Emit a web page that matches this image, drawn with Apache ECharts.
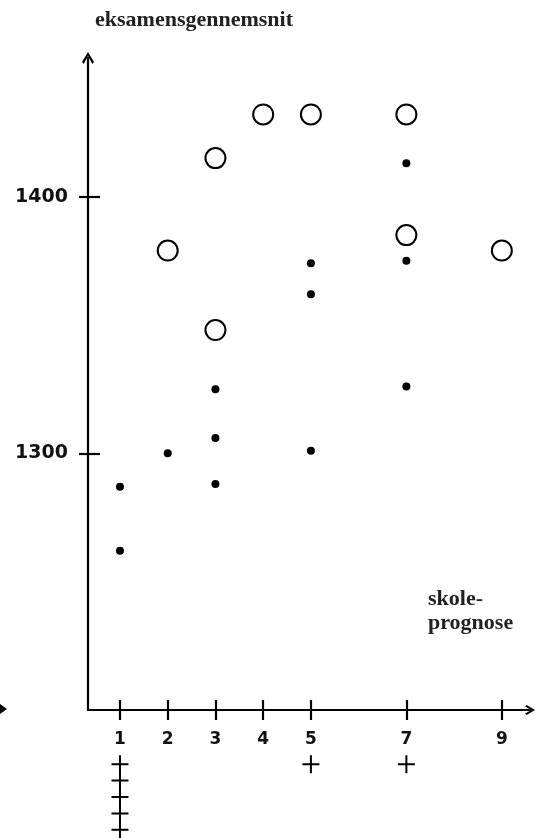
<!DOCTYPE html>
<html>
<head>
<meta charset="utf-8">
<script src="https://cdn.jsdelivr.net/npm/echarts@6/dist/echarts.min.js"></script>
<style>html,body{margin:0;padding:0;background:#fff;}#c{width:535px;height:838px;}</style>
</head>
<body>
<div id="c"></div>
<script>
// Data
const xTicks = [1, 2, 3, 4, 5, 7, 9];
const yTicks = [1300, 1400];
const dotX = [1, 1, 2, 3, 3, 3, 5, 5, 5, 7, 7, 7];
const dotY = [1287, 1262, 1300, 1325, 1306, 1288, 1374, 1362, 1301, 1413, 1375, 1326];
const circX = [2, 3, 3, 4, 5, 7, 7, 9];
const circY = [1379, 1415, 1348, 1432, 1432, 1432, 1385, 1379];
const plusX = [1, 1, 1, 1, 1, 5, 7];
const plusRank = [1, 2, 3, 4, 5, 1, 1];
const yName = 'eksamensgennemsnit';
const xName = 'skole-\nprognose';

const ink = '#000';
const chevron = 'path://M5,0 L10,8.4 L8.6,10 L5,3.4 L1.4,10 L0,8.4 Z';
const plusPath = 'path://M0,8 L17,8 L17,10 L0,10 Z M7.5,0 L9.5,0 L9.5,18 L7.5,18 Z';

const xMin = 0.33, xMax = 9.59, yMin = 1200, yMax = 1454;

const chart = echarts.init(document.getElementById('c'), null, {renderer: 'canvas'});
chart.setOption({
  animation: false,
  backgroundColor: '#fff',
  title: {
    text: xName, left: 423, top: 582,
    textStyle: {fontFamily: 'Liberation Serif', fontWeight: 'bold', fontSize: 22, lineHeight: 24, color: '#222'}
  },
  grid: [
    {left: 88, right: 5, top: 58, bottom: 128},
    {left: 88, right: 5, top: 756, height: 85}
  ],
  xAxis: [
    {
      gridIndex: 0, type: 'value', min: xMin, max: xMax, position: 'bottom',
      axisLine: {show: true, lineStyle: {color: ink, width: 2.2}, symbol: ['none', chevron], symbolSize: [20, 10]},
      axisTick: {show: true, inside: true, length: 10, customValues: xTicks, lineStyle: {color: ink, width: 2.2}},
      axisLabel: {show: false},
      splitLine: {show: false}
    },
    {
      gridIndex: 0, type: 'value', min: xMin, max: xMax, position: 'bottom',
      axisLine: {show: false},
      axisTick: {show: true, inside: false, length: 10, customValues: xTicks, lineStyle: {color: ink, width: 2.2}},
      axisLabel: {show: true, customValues: xTicks, margin: 21, fontFamily: 'DejaVu Sans', fontWeight: 'bold', fontSize: 17, color: '#111'},
      splitLine: {show: false}
    },
    {gridIndex: 1, type: 'value', min: xMin, max: xMax, show: false}
  ],
  yAxis: [
    {
      gridIndex: 0, type: 'value', min: yMin, max: yMax, position: 'left',
      name: yName, nameLocation: 'end', nameGap: 38,
      nameTextStyle: {fontFamily: 'Liberation Serif', fontWeight: 'bold', fontSize: 22, color: '#222', align: 'left', verticalAlign: 'middle', padding: [0, 0, 0, 7]},
      axisLine: {show: true, lineStyle: {color: ink, width: 2.2}, symbol: ['none', chevron], symbolSize: [17, 12]},
      axisTick: {show: true, inside: true, length: 12, customValues: yTicks, lineStyle: {color: ink, width: 2.2}},
      axisLabel: {show: false},
      splitLine: {show: false}
    },
    {
      gridIndex: 0, type: 'value', min: yMin, max: yMax, position: 'left',
      axisLine: {show: false},
      axisTick: {show: true, inside: false, length: 9, customValues: yTicks, lineStyle: {color: ink, width: 2.2}},
      axisLabel: {show: true, customValues: yTicks, margin: 20, formatter: v => String(v), fontFamily: 'DejaVu Sans', fontWeight: 'bold', fontSize: 19, color: '#111'},
      splitLine: {show: false}
    },
    {gridIndex: 1, type: 'value', min: 0.5, max: 5.5, inverse: true, show: false}
  ],
  series: [
    {
      type: 'scatter', xAxisIndex: 0, yAxisIndex: 0, symbol: 'circle', symbolSize: 8,
      itemStyle: {color: ink, opacity: 1},
      data: dotX.map((x, i) => [x, dotY[i]])
    },
    {
      type: 'scatter', xAxisIndex: 0, yAxisIndex: 0, symbol: 'circle', symbolSize: 20,
      itemStyle: {color: '#fff', borderColor: ink, borderWidth: 2, opacity: 1},
      data: circX.map((x, i) => [x, circY[i]])
    },
    {
      type: 'scatter', xAxisIndex: 2, yAxisIndex: 2, symbol: plusPath, symbolSize: [17, 18],
      itemStyle: {color: ink, opacity: 1}, clip: false,
      data: plusX.map((x, i) => [x, plusRank[i]])
    }
  ],
  graphic: [
    {type: 'polygon', shape: {points: [[0, 704], [7, 709], [0, 714]]}, style: {fill: ink}}
  ]
});
</script>
</body>
</html>
